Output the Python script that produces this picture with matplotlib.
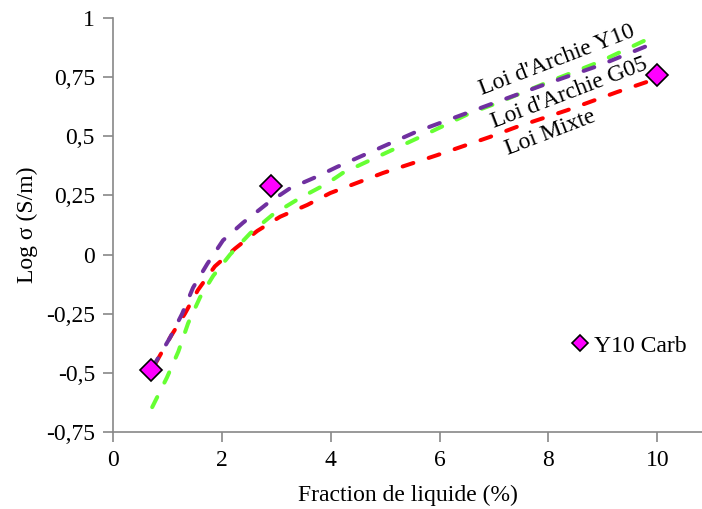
import numpy as np
import matplotlib.pyplot as plt

plt.rcParams['font.family'] = ['Liberation Serif', 'DejaVu Serif']
fontsize = 17

# Loi d'Archie Y10 (purple)
x_y10 = [0.72, 1.05, 1.27, 1.47, 1.73, 2.02, 2.39, 2.83, 3.25, 3.75, 4.11, 5.58, 7.05, 8.0, 8.94, 10]
y_y10 = [-0.48, -0.35, -0.25, -0.14, -0.04, 0.06, 0.135, 0.215, 0.28, 0.33, 0.37, 0.52, 0.645, 0.725, 0.80, 0.90]

# Loi d'Archie G05 (green)
x_g05 = [0.72, 0.99, 1.2, 1.38, 1.6, 1.84, 2.15, 2.52, 2.94, 3.44, 3.93, 4.22, 5.64, 6.56, 7.05, 8.0, 8.94, 10]
y_g05 = [-0.645, -0.52, -0.41, -0.29, -0.18, -0.09, 0.0, 0.09, 0.17, 0.24, 0.30, 0.345, 0.497, 0.598, 0.64, 0.73, 0.815, 0.93]

# Loi Mixte (red)
x_mix = [0.78, 1.05, 1.32, 1.56, 1.87, 2.24, 2.65, 3.07, 3.57, 3.99, 4.96, 5.95, 6.92, 7.42, 8.34, 9.26, 10]
y_mix = [-0.46, -0.35, -0.25, -0.15, -0.05, 0.025, 0.10, 0.16, 0.21, 0.26, 0.345, 0.42, 0.497, 0.54, 0.61, 0.687, 0.745]

# measured points
x_carb = [0.7, 2.9, 10]
y_carb = [-0.49, 0.29, 0.76]

yticks = [-0.75, -0.5, -0.25, 0, 0.25, 0.5, 0.75, 1]
yticklabels = ['-0,75', '-0,5', '-0,25', '0', '0,25', '0,5', '0,75', '1']
xticks = [0, 2, 4, 6, 8, 10]

fig = plt.figure(figsize=(7.02, 5.09), dpi=100)
ax = fig.add_axes([0.161, 0.1513, 0.839, 0.8133])

dash = dict(linewidth=2.9, dashes=(2.8, 4.0), dash_capstyle='round')
ax.plot(x_mix, y_mix, color='#FF0000', **dash)
ax.plot(x_g05, y_g05, color='#66FF33', **dash)
ax.plot(x_y10, y_y10, color='#7030A0', **dash)
ax.plot(x_carb, y_carb, linestyle='none', marker='D', markersize=11,
        markerfacecolor='#FF00FF', markeredgecolor='black', markeredgewidth=1.2,
        label='Y10 Carb', zorder=5)

ax.text(8.15, 0.82, "Loi d'Archie Y10", rotation=21, fontsize=fontsize,
        ha='center', va='center', rotation_mode='anchor')
ax.text(8.39, 0.683, "Loi d'Archie G05", rotation=21, fontsize=fontsize,
        ha='center', va='center', rotation_mode='anchor')
ax.text(8.03, 0.513, "Loi Mixte", rotation=21, fontsize=fontsize,
        ha='center', va='center', rotation_mode='anchor')

ax.set_xlim(0, 10.82)
ax.set_ylim(-0.75, 1)
ax.set_xticks(xticks)
ax.set_yticks(yticks)
ax.set_yticklabels(yticklabels)
ax.tick_params(axis='both', labelsize=fontsize, color='#888888', length=7, width=1.2, pad=6)
for s in ['top', 'right']:
    ax.spines[s].set_visible(False)
for s in ['left', 'bottom']:
    ax.spines[s].set_color('#888888')
    ax.spines[s].set_linewidth(1.2)

ax.set_xlabel('Fraction de liquide (%)', fontsize=fontsize, labelpad=10)
ax.set_ylabel('Log σ (S/m)', fontsize=fontsize, labelpad=6)

ax.legend(loc='center left', bbox_to_anchor=(0.741, 0.208), frameon=False,
          fontsize=fontsize, handlelength=0.8, handletextpad=0.2, markerscale=0.75)

fig.savefig('out.png', dpi=100)
